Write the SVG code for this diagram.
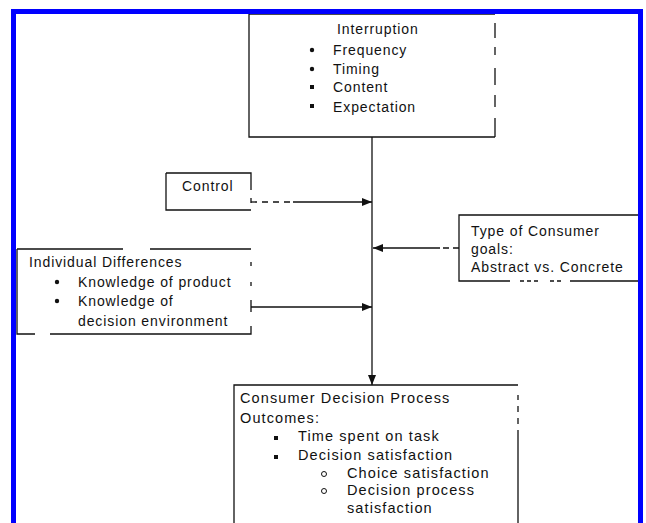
<svg xmlns="http://www.w3.org/2000/svg" width="646" height="523" viewBox="0 0 646 523">
<style>
text{font-family:"Liberation Sans",Arial,sans-serif;font-size:14px;fill:#111;letter-spacing:0.9px}
.big{font-size:14.5px;letter-spacing:1.1px}
.edge{fill:none;stroke:#111;stroke-width:1.3}
.conn{fill:none;stroke:#111;stroke-width:1.3}
.dot{fill:#111}
.ring{fill:none;stroke:#111;stroke-width:1}
</style>
<defs>
<marker id="ah" viewBox="0 0 10 8" refX="10" refY="4" markerWidth="10" markerHeight="8" markerUnits="userSpaceOnUse" orient="auto">
<path d="M0,0 L10,4 L0,8 Z" fill="#111"/>
</marker>
</defs>
<rect x="0" y="0" width="646" height="523" fill="#fff"/>
<g id="connectors">
<line class="conn" x1="372" y1="137" x2="372" y2="385" marker-end="url(#ah)"/>
<line class="conn" x1="251" y1="202" x2="293" y2="202" stroke-dasharray="6,5"/>
<line class="conn" x1="293" y1="202" x2="372" y2="202" marker-end="url(#ah)"/>
<line class="conn" x1="459" y1="248" x2="440" y2="248" stroke-dasharray="6,4"/>
<line class="conn" x1="440" y1="248" x2="373" y2="248" marker-end="url(#ah)"/>
<line class="conn" x1="251" y1="307" x2="372" y2="307" marker-end="url(#ah)"/>
</g>
<g id="interruption">
<path class="edge" d="M249,14 V137 H495"/>
<path class="edge" d="M249,14 H495"/>
<path class="edge" d="M495,23 V38 M495,47 V55 M495,68 V85 M495,95 V107 M495,118 V137"/>
<text x="337" y="34">Interruption</text>
<circle class="dot" cx="312" cy="50" r="2.2"/>
<text x="333" y="55">Frequency</text>
<circle class="dot" cx="312" cy="69" r="2.2"/>
<text x="333" y="74">Timing</text>
<rect class="dot" x="310" y="85" width="4" height="4"/>
<text x="333" y="92">Content</text>
<rect class="dot" x="310" y="104" width="4" height="4"/>
<text x="333" y="112">Expectation</text>
</g>
<g id="control">
<path class="edge" d="M166,173 H251 V190 M166,173 V210 H251 M251,198 V203"/>
<text x="182" y="191">Control</text>
</g>
<g id="goals">
<path class="edge" d="M640,215 H459 V281 H510 M570,281 H640"/>
<path class="edge" d="M520,281 H540 M550,281 H562" stroke-dasharray="4,3"/>
<text x="471" y="236">Type of Consumer</text>
<text x="471" y="254">goals:</text>
<text x="471" y="272">Abstract vs. Concrete</text>
</g>
<g id="individual">
<path class="edge" d="M17,249 H123 M150,249 H251 M17,249 V334 H35 M50,334 H251 V326"/>
<path class="edge" d="M251,262 V266 M251,282 V286 M251,300 V312"/>
<text x="29" y="267">Individual Differences</text>
<circle class="dot" cx="57" cy="282" r="2.2"/>
<text x="78" y="287">Knowledge of product</text>
<circle class="dot" cx="57" cy="301" r="2.2"/>
<text x="78" y="306">Knowledge of</text>
<text x="78" y="326">decision environment</text>
</g>
<g id="outcomes">
<path class="edge" d="M234,530 V385 H518"/>
<path class="edge" d="M518,395 V400 M518,406 V412 M518,418 V424 M518,430 V530"/>
<text class="big" x="240" y="403">Consumer Decision Process</text>
<text class="big" x="240" y="423">Outcomes:</text>
<rect class="dot" x="274" y="436" width="4" height="4"/>
<text class="big" x="298" y="441">Time spent on task</text>
<rect class="dot" x="274" y="455" width="4" height="4"/>
<text class="big" x="298" y="460">Decision satisfaction</text>
<circle class="ring" cx="324" cy="474" r="2.5"/>
<text class="big" x="347" y="478">Choice satisfaction</text>
<circle class="ring" cx="324" cy="491" r="2.5"/>
<text class="big" x="347" y="495">Decision process</text>
<text class="big" x="347" y="513">satisfaction</text>
</g>
<rect x="13.5" y="11.5" width="627" height="530" fill="none" stroke="#0000ff" stroke-width="5"/>
</svg>
